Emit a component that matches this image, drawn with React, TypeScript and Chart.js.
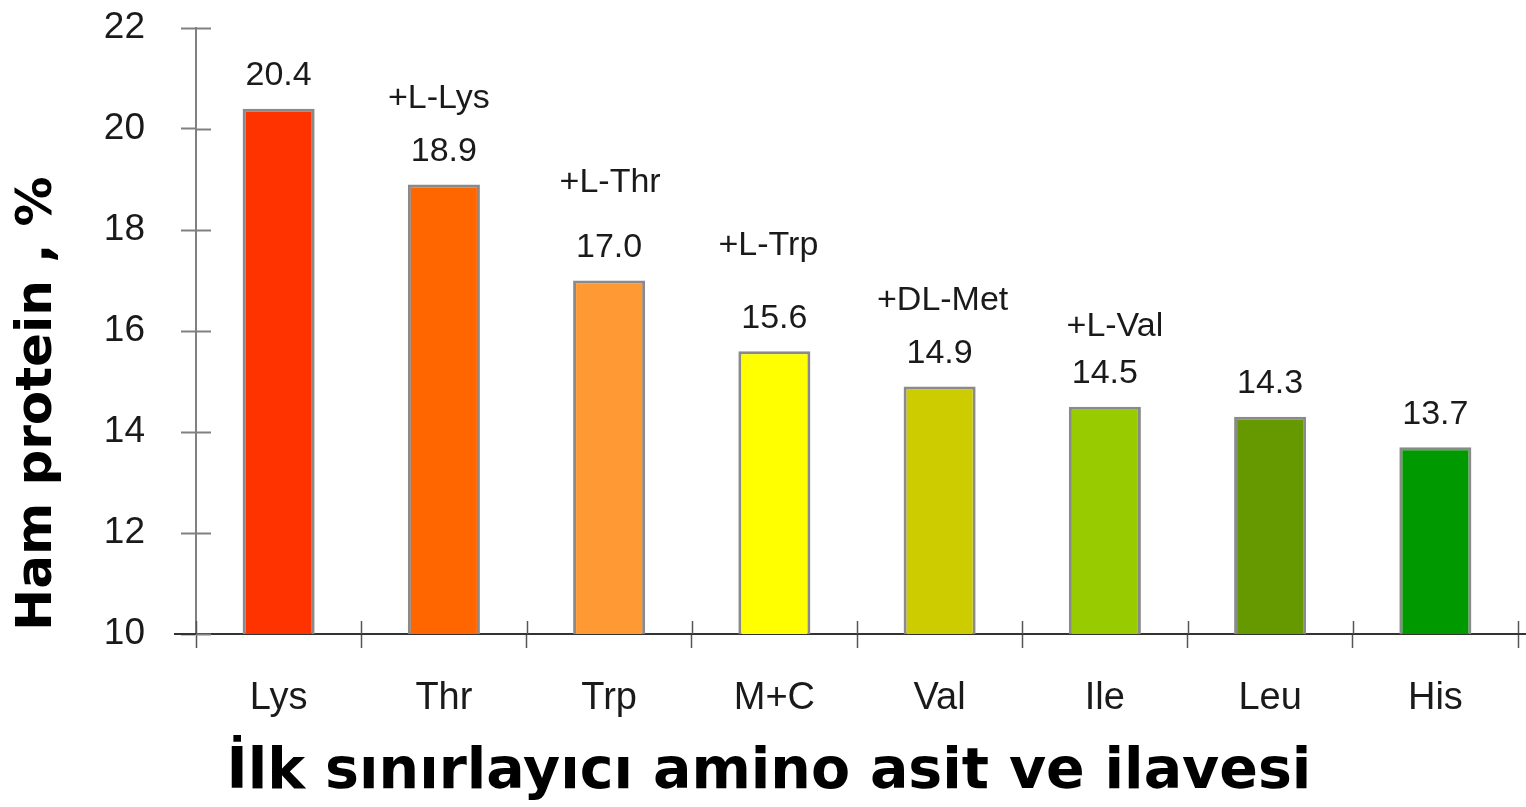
import React, { useEffect, useRef } from "react";
import { Chart, registerables } from "chart.js";

Chart.register(...registerables);

// ---- data ----
const categories = ["Lys", "Thr", "Trp", "M+C", "Val", "Ile", "Leu", "His"];
const proteinValues = [20.4, 18.9, 17.0, 15.6, 14.9, 14.5, 14.3, 13.7];
const valueLabels = ["20.4", "18.9", "17.0", "15.6", "14.9", "14.5", "14.3", "13.7"];
const additions = ["", "+L-Lys", "+L-Thr", "+L-Trp", "+DL-Met", "+L-Val", "", ""];
const yTickValues = [10, 12, 14, 16, 18, 20, 22];
const yAxisTitle = "Ham protein , %";
const xAxisTitle = "İlk sınırlayıcı amino asit ve ilavesi";

// ---- styling ----
const barColors = ["#FF3300", "#FF6600", "#FF9933", "#FFFF00", "#CCCC00", "#99CC00", "#669900", "#009900"];
const additionLift = [0, 53, 65, 73, 53, 47, 0, 0];
const additionShift = [0, -5, 1, -6, 3, 10, 0, 0];

const SANS = "'Liberation Sans', Arial, sans-serif";
const BOLD = "'DejaVu Sans', Verdana, sans-serif";

const annotatePlugin = {
  id: "annotate",
  afterDraw(chart: any) {
    const ctx = chart.ctx;
    const xs = chart.scales.x;
    const ys = chart.scales.y;
    const area = chart.chartArea;
    ctx.save();
    // inward halves of tick marks (ticks cross the axes)
    ctx.strokeStyle = "#808080";
    ctx.lineWidth = 2;
    yTickValues.forEach((v) => {
      const py = Math.round(ys.getPixelForValue(v)) + 0.5;
      ctx.beginPath();
      ctx.moveTo(area.left, py);
      ctx.lineTo(area.left + 15, py);
      ctx.stroke();
    });
    ctx.strokeStyle = "#555555";
    ctx.lineWidth = 1.5;
    for (let i = 0; i <= categories.length; i++) {
      const px = Math.round(xs.getPixelForValue(i - 0.5)) + 0.5;
      ctx.beginPath();
      ctx.moveTo(px, area.bottom - 13);
      ctx.lineTo(px, area.bottom);
      ctx.stroke();
    }
    // x-axis line extensions
    ctx.strokeStyle = "#333333";
    ctx.lineWidth = 2;
    ctx.beginPath();
    ctx.moveTo(area.left - 22, area.bottom);
    ctx.lineTo(area.left, area.bottom);
    ctx.moveTo(area.right, area.bottom);
    ctx.lineTo(area.right + 8, area.bottom);
    ctx.stroke();

    // value labels and additions
    const meta = chart.getDatasetMeta(0);
    ctx.fillStyle = "#1a1a1a";
    ctx.textAlign = "center";
    ctx.textBaseline = "middle";
    ctx.font = `34px ${SANS}`;
    meta.data.forEach((bar: any, i: number) => {
      const { x, y } = bar.getProps(["x", "y"], true);
      const vy = y - 33;
      ctx.fillText(valueLabels[i], x, vy);
      if (additions[i]) {
        ctx.fillText(additions[i], x + additionShift[i], vy - additionLift[i]);
      }
    });
    ctx.restore();
  },
};

export default function App() {
  const canvasRef = useRef<HTMLCanvasElement | null>(null);

  useEffect(() => {
    document.body.style.margin = "0";
    const canvas = canvasRef.current;
    if (!canvas) return;
    const chart = new Chart(canvas, {
      type: "bar",
      data: {
        labels: categories,
        datasets: [
          {
            data: proteinValues,
            backgroundColor: barColors,
            borderColor: "#8a8a8a",
            borderWidth: 3,
            borderSkipped: false,
            barPercentage: 0.436,
            categoryPercentage: 1,
          },
        ],
      },
      options: {
        responsive: false,
        animation: false,
        layout: { padding: { top: 0, right: 8, bottom: 0, left: 20 } },
        plugins: {
          legend: { display: false },
          tooltip: { enabled: false },
          title: {
            display: true,
            position: "left",
            text: yAxisTitle,
            color: "#000000",
            font: { family: BOLD, size: 50, weight: "bold", lineHeight: 1.2 },
            padding: { top: -12, bottom: 0 },
          },
          subtitle: {
            display: true,
            position: "bottom",
            text: xAxisTitle,
            color: "#000000",
            font: { family: BOLD, size: 57, weight: "bold", lineHeight: 1.2 },
            padding: { top: 2, bottom: 0 },
          },
        },
        scales: {
          x: {
            type: "category",
            offset: true,
            grid: {
              display: true,
              offset: true,
              drawOnChartArea: false,
              drawTicks: true,
              tickLength: 14,
              tickColor: "#555555",
              tickWidth: 1.5,
            },
            border: { display: true, color: "#333333", width: 2 },
            ticks: {
              color: "#1a1a1a",
              font: { family: SANS, size: 38 },
              padding: 28,
              maxRotation: 0,
              autoSkip: false,
            },
            afterFit: (scale: any) => {
              scale.height = 102.6;
            },
          },
          y: {
            type: "linear",
            min: 10,
            max: 22,
            grid: {
              display: true,
              drawOnChartArea: false,
              drawTicks: true,
              tickLength: 15,
              tickColor: "#808080",
              tickWidth: 2,
            },
            border: { display: true, color: "#808080", width: 2 },
            ticks: {
              color: "#1a1a1a",
              font: { family: SANS, size: 37 },
              padding: 36,
            },
            afterBuildTicks: (scale: any) => {
              scale.ticks = yTickValues.map((v) => ({ value: v }));
            },
            afterFit: (scale: any) => {
              scale.width = 128;
              scale.paddingTop = 28;
              scale.paddingBottom = 0;
            },
          },
        },
      },
      plugins: [annotatePlugin],
    });
    return () => chart.destroy();
  }, []);

  return (
    <div style={{ position: "absolute", left: 0, top: 0, width: 1526, height: 807, background: "#ffffff" }}>
      <canvas ref={canvasRef} width={1526} height={807} style={{ display: "block" }} />
    </div>
  );
}
